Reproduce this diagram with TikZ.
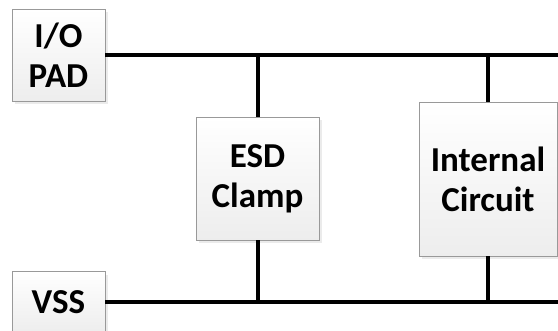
\documentclass[tikz,border=0pt]{standalone}
\usepackage{fontspec}
\setmainfont{Carlito}
\usetikzlibrary{shadings}
\begin{document}
\begin{tikzpicture}[x=1pt,y=-1pt,
  blockbox/.style={draw=black!40, line width=0.9pt,
    top color=white, bottom color=black!7,
    minimum width=#1, inner sep=0pt, align=center,
    font=\fontsize{35}{40}\bfseries\selectfont},
  blockshadow/.style={fill=black!8, draw=none},
  wire/.style={line width=4pt, black}]
  \useasboundingbox (0,0) rectangle (558,331);

  % soft drop shadows behind the blocks
  \fill[blockshadow] (15,12) rectangle (108,104);
  \fill[blockshadow] (199,120) rectangle (322,243);
  \fill[blockshadow] (422,105) rectangle (560,259);
  \fill[blockshadow] (15,275) rectangle (108,340);

  % blocks
  \node[blockbox=93pt, minimum height=92pt] (io) at (58.5,55) {I/O\\PAD};
  \node[blockbox=123pt, minimum height=123pt] (esd) at (257.5,178.5) {ESD\\Clamp};
  \node[blockbox=138pt, minimum height=154pt] (ic) at (488,179) {Internal\\Circuit};
  \node[blockbox=93pt, minimum height=62pt] (vss) at (58.5,302) {VSS};

  % rail end points at the right edge
  \coordinate (topend) at (558,55);
  \coordinate (botend) at (558,302);

  % supply rails
  \draw[wire] (io.east) -- (io.east -| topend);
  \draw[wire] (vss.east) -- (vss.east -| botend);

  % branches from the rails to the blocks
  \draw[wire] (esd.north) -- (esd.north |- io.east);
  \draw[wire] (esd.south) -- (esd.south |- vss.east);
  \draw[wire] (ic.north) -- (ic.north |- io.east);
  \draw[wire] (ic.south) -- (ic.south |- vss.east);
\end{tikzpicture}
\end{document}
